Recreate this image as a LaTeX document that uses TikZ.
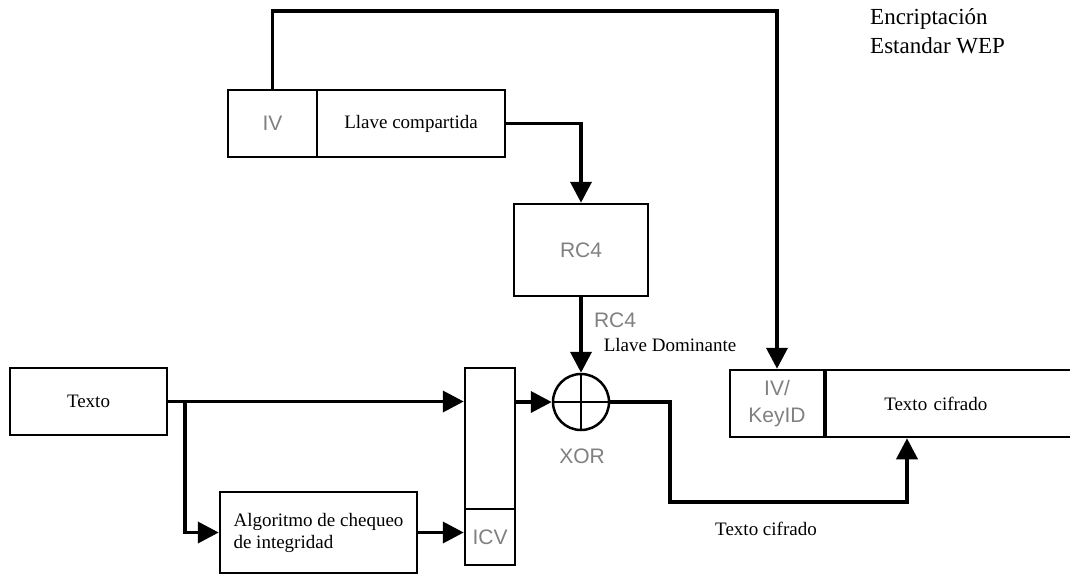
\documentclass[tikz,border=0pt]{standalone}
\usepackage{fontspec}
\setmainfont{Liberation Serif}
\setsansfont{Liberation Sans}
\usetikzlibrary{arrows.meta}
\begin{document}
\begin{tikzpicture}[
    x=1pt, y=-1pt,
    box/.style={draw, line width=2.5pt, inner sep=0pt, minimum height=67pt,
                font=\fontsize{19}{22}\selectfont, align=center},
    gbox/.style={box, text=black!50, font=\sffamily\fontsize{21}{27}\selectfont},
    arr/.style={-{Triangle[length=21pt,width=21pt]}, line width=3.8pt},
    glabel/.style={text=black!50, font=\sffamily\fontsize{21}{25}\selectfont},
    slabel/.style={font=\fontsize{19}{22}\selectfont}
  ]
  \useasboundingbox (0,0) rectangle (1070,579);

  % cajas
  \node[gbox, minimum width=89pt] (iv) at (272.5,123.5) {IV};
  \node[box, minimum width=188pt] (llave) at (411,123.5) {Llave compartida};
  \node[gbox, minimum width=134pt, minimum height=92pt] (rc4) at (581,250) {RC4};
  \node[draw, circle, line width=2.5pt, minimum size=56pt, inner sep=0pt,
        path picture={\draw[line width=2.5pt]
          (path picture bounding box.north) -- (path picture bounding box.south)
          (path picture bounding box.west) -- (path picture bounding box.east);}]
        (xor) at (581,402) {};
  \node[box, minimum width=157pt] (texto) at (88.5,401.5) {Texto};
  \node[box, minimum width=197pt, minimum height=81pt, align=left] (algo) at (318.5,532.5)
        {Algoritmo de chequeo\\de integridad};
  \node[gbox, minimum width=50pt, minimum height=141pt] (datos) at (490,438.5) {};
  \node[gbox, minimum width=50pt, minimum height=56pt] (icv) at (490,537) {ICV};
  \node[gbox, minimum width=94pt] (ivkey) at (777,403.5) {IV/\\KeyID};
  \node[box, text width=138pt, inner xsep=59pt, align=left, anchor=west] (cifrado)
        at (824,403.5) {Texto cifrado};

  % textos sueltos
  \node[glabel] (rc4lbl) at (615,320) {RC4};
  \node[slabel] (domlbl) at (670,345) {Llave Dominante};
  \node[glabel] (xorlbl) at (582,456) {XOR};
  \node[slabel] (cifradolbl) at (766,529) {Texto cifrado};
  \node[align=left, anchor=north west, inner sep=0pt, font=\fontsize{23}{29}\selectfont]
        (titulo) at (870,8) {Encriptación\\Estandar WEP};

  % conexiones
  \coordinate (tope) at (500,11);
  \coordinate (rama) at (185,401.5);
  \coordinate (baja) at (670,502);
  \draw[arr] (iv.north) |- (tope) -| (ivkey.north);
  \draw[arr] (llave.east) -| (rc4.north);
  \draw[arr] (rc4.south) -- (xor.north);
  \draw[arr] (texto.east) -- (texto.east -| datos.west);
  \draw[arr] (rama) |- (algo.west);
  \draw[arr] (algo.east) -- (algo.east -| icv.west);
  \draw[arr] (xor.west -| datos.east) -- (xor.west);
  \draw[arr] (xor.east) -| (baja) -| ([xshift=83pt]cifrado.south west);
\end{tikzpicture}
\end{document}
